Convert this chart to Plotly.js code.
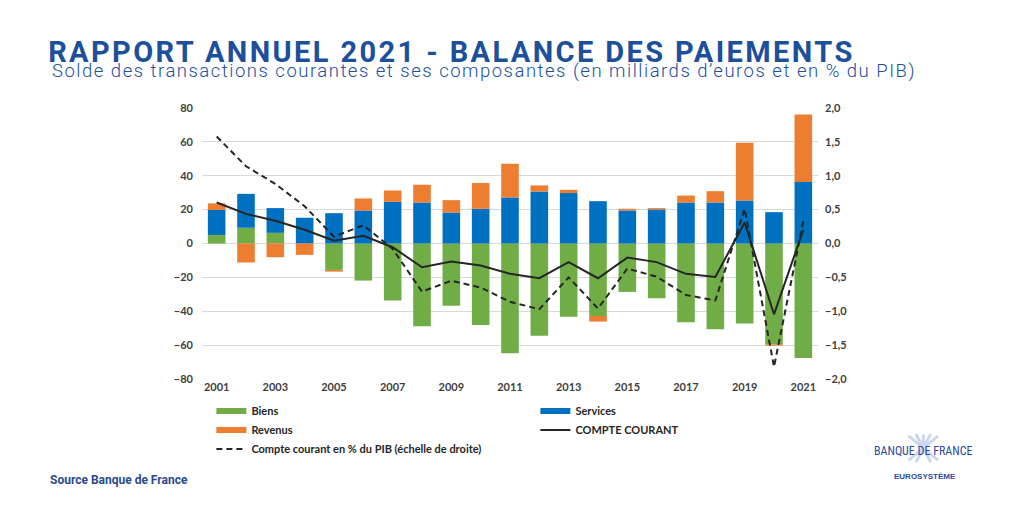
<!DOCTYPE html>
<html>
<head>
<meta charset="utf-8">
<script src="https://cdn.plot.ly/plotly-3.0.1.min.js"></script>
<style>
html,body{margin:0;padding:0;background:#fff;}
#chart{width:1024px;height:512px;}
.gtitle{letter-spacing:2.4px;}
text[data-unformatted^="Solde des"]{letter-spacing:1.5px;}
</style>
</head>
<body>
<div id="chart"></div>
<script>
// Data (milliards d'euros; ratio en % du PIB)
const years = [2001,2002,2003,2004,2005,2006,2007,2008,2009,2010,2011,2012,2013,2014,2015,2016,2017,2018,2019,2020,2021];
const biens = [5,9.3,6.3,0,-15.6,-21.9,-33.7,-48.9,-36.8,-48.1,-64.8,-54.4,-43.2,-42.8,-28.6,-32.3,-46.5,-50.6,-47.3,-59.5,-67.6];
const services = [14.8,20,14.6,15.2,17.9,19.5,24.6,24.2,18.3,20.5,27.2,30.7,29.8,25,19.5,20.1,24.2,24.2,25.4,18.5,36.3];
const revenus = [3.9,-11.2,-8.1,-6.7,-1,7.1,6.7,10.5,7.3,15.2,19.9,3.6,1.9,-3.3,1,0.8,4.1,6.7,34.1,-0.8,39.8];
const compteCourant = [24.2,17.5,13.4,8.1,1.6,4.5,-2.2,-14,-10.6,-13,-17.9,-20.5,-11,-20.5,-8.3,-11,-17.9,-19.7,12.4,-41.8,8.1];
const ccPib = [1.58,1.14,0.88,0.55,0.10,0.27,-0.08,-0.71,-0.55,-0.65,-0.86,-0.97,-0.50,-0.96,-0.37,-0.49,-0.76,-0.84,0.51,-1.82,0.33];
const yearTicks = [2001,2003,2005,2007,2009,2011,2013,2015,2017,2019,2021];
const leftTicks = [-80,-60,-40,-20,0,20,40,60,80];
const rightTicks = [-2,-1.5,-1,-0.5,0,0.5,1,1.5,2];

const cGreen = '#70ad47', cBlue = '#0070c0', cOrange = '#ed7d31', cLine = '#262626';
const tickFont = {family: 'Lato, "Open Sans", sans-serif', size: 11, color: '#404040', weight: 'bold'};
const blueTxt = '#1c4f9c';

const traces = [
  {type:'bar', x: years, y: biens, name:'Biens', marker:{color:cGreen}, showlegend:false},
  {type:'bar', x: years, y: services, name:'Services', marker:{color:cBlue}, showlegend:false},
  {type:'bar', x: years, y: revenus, name:'Revenus', marker:{color:cOrange}, showlegend:false},
  {type:'scatter', mode:'lines', x: years, y: compteCourant, name:'COMPTE COURANT', line:{color:cLine, width:2}, showlegend:false},
  {type:'scatter', mode:'lines', x: years, y: ccPib, yaxis:'y2', name:'Compte courant en % du PIB (échelle de droite)', line:{color:cLine, width:2, dash:'6px,4px'}, showlegend:false},
  // legend entries
  {type:'scatter', mode:'lines', x:[null], y:[null], name:'Biens', line:{color:cGreen, width:6}, legendrank:1},
  {type:'scatter', mode:'lines', x:[null], y:[null], name:'Services', line:{color:cBlue, width:6}, legendrank:2},
  {type:'scatter', mode:'lines', x:[null], y:[null], name:'Revenus', line:{color:cOrange, width:6}, legendrank:3},
  {type:'scatter', mode:'lines', x:[null], y:[null], name:'COMPTE COURANT', line:{color:cLine, width:2}, legendrank:4},
  {type:'scatter', mode:'lines', x:[null], y:[null], name:'Compte courant en % du PIB (échelle de droite)', line:{color:cLine, width:2, dash:'6px,4px'}, legendrank:5}
];

// emblem rays (decoration)
const shapes = [];
const cx = 1.171, cy = -0.255;
const rays = [[-0.024,0.045],[-0.012,0.052],[0,0.05],[0.012,0.052],[0.024,0.045],[-0.024,-0.045],[-0.012,-0.052],[0.012,-0.052],[0.024,-0.045]];
rays.forEach(r => shapes.push({type:'line', xref:'paper', yref:'paper', x0:cx, y0:cy, x1:cx+r[0], y1:cy+r[1], line:{color:'#cdd8ee', width:3}}));

const layout = {
  width:1024, height:512,
  margin:{l:202, r:206, t:108, b:133},
  paper_bgcolor:'#fff', plot_bgcolor:'#fff',
  separators:', ',
  barmode:'relative', bargap:0.4,
  showlegend:true,
  title:{text:'RAPPORT ANNUEL 2021 - BALANCE DES PAIEMENTS', x:0.047, xanchor:'left', xref:'container', y:0.8994, yanchor:'middle', yref:'container',
    font:{family:'Roboto, sans-serif', size:29, color:blueTxt, weight:'bold'}},
  xaxis:{range:[2000.5,2021.5], tickmode:'array', tickvals:yearTicks, ticktext:yearTicks.map(String),
    showgrid:false, zeroline:false, showline:false, ticks:'', tickfont:tickFont},
  yaxis:{range:[-80,80], tickmode:'array', tickvals:leftTicks, showgrid:true, gridcolor:'#d9d9d9', gridwidth:1, zeroline:false, showline:false, ticks:'', tickfont:tickFont, ticklabelstandoff:8},
  yaxis2:{range:[-2,2], overlaying:'y', side:'right', tickmode:'array', tickvals:rightTicks, tickformat:'.1f', showgrid:false, zeroline:false, showline:false, ticks:'', tickfont:tickFont, ticklabelstandoff:6},
  legend:{orientation:'h', xref:'paper', yref:'paper', x:-0.001, y:-0.065, xanchor:'left', yanchor:'top', entrywidth:269, entrywidthmode:'pixels', indentation:10,
    font:{family:'Lato, "Open Sans", sans-serif', size:11, color:'#262626', weight:'bold'}, itemwidth:30, traceorder:'normal', bgcolor:'rgba(0,0,0,0)'},
  shapes: shapes,
  annotations:[
    {text:'Solde des transactions courantes et ses composantes (en milliards d’euros et en % du PIB)', xref:'paper', yref:'paper', x:-0.2468, y:1.1347, xanchor:'left', yanchor:'middle', showarrow:false,
      font:{family:'Roboto, sans-serif', size:18.5, color:blueTxt, weight:300}},
    {text:'Source Banque de France', xref:'paper', yref:'paper', x:-0.25, y:-0.373, xanchor:'left', yanchor:'middle', showarrow:false,
      font:{family:'Roboto, sans-serif', size:12, color:'#2a4a8e', weight:'bold'}},
    {text:'BANQUE DE FRANCE', xref:'paper', yref:'paper', x:1.171, y:-0.266, xanchor:'center', yanchor:'middle', showarrow:false,
      font:{family:'"Liberation Sans Narrow", "Roboto Condensed", sans-serif', size:12, color:'#2b4c9b'}},
    {text:'EUROSYSTÈME', xref:'paper', yref:'paper', x:1.174, y:-0.358, xanchor:'center', yanchor:'middle', showarrow:false,
      font:{family:'"Liberation Sans Narrow", sans-serif', size:8, color:'#2b4c9b', weight:'bold'}}
  ]
};

Plotly.newPlot('chart', traces, layout, {displayModeBar:false, staticPlot:true});
</script>
</body>
</html>
